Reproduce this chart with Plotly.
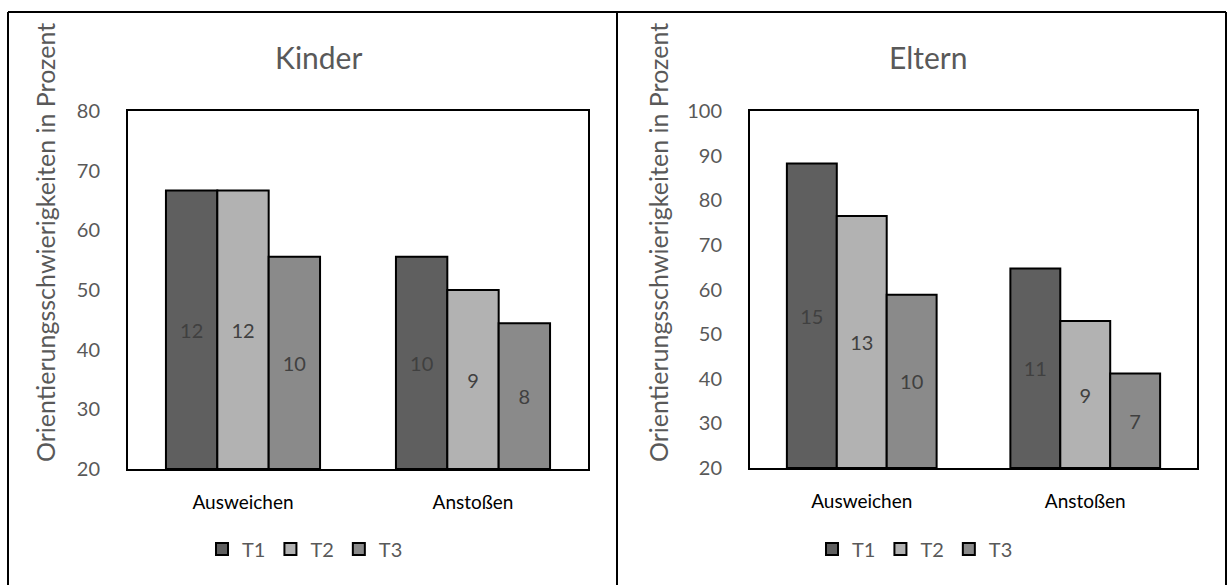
import plotly.graph_objects as go

# Survey data: number of respondents reporting orientation difficulties
categories = ["Ausweichen", "Anstoßen"]
series_names = ["T1", "T2", "T3"]
series_colors = ["#5f5f5f", "#b2b2b2", "#8a8a8a"]

kinder_n = 18
kinder_counts = {
    "T1": [12, 10],
    "T2": [12, 9],
    "T3": [10, 8],
}

eltern_n = 17
eltern_counts = {
    "T1": [15, 11],
    "T2": [13, 9],
    "T3": [10, 7],
}

kinder_ticks = [20, 30, 40, 50, 60, 70, 80]
eltern_ticks = [20, 30, 40, 50, 60, 70, 80, 90, 100]
axis_floor = 20  # bars start at the bottom of the value axis

FONT = "Lato, Open Sans, sans-serif"
W, H = 1228, 585

fig = go.Figure()


def add_panel(counts, n, xaxis, yaxis, legend):
    for name, color in zip(series_names, series_colors):
        vals = counts[name]
        pct = [v / n * 100 for v in vals]
        fig.add_trace(go.Bar(
            x=categories,
            base=axis_floor,
            y=[p - axis_floor for p in pct],
            name=name,
            text=[str(v) for v in vals],
            textposition="inside", insidetextanchor="middle",
            textfont=dict(family=FONT, size=20, color="#404040"),
            marker=dict(color=color, line=dict(color="black", width=2)),
            xaxis=xaxis, yaxis=yaxis, legend=legend,
            customdata=pct,
            hovertemplate="%{x}: %{customdata:.1f} %<extra>" + name + "</extra>",
        ))


add_panel(kinder_counts, kinder_n, "x", "y", "legend")
add_panel(eltern_counts, eltern_n, "x2", "y2", "legend2")


def px_x(v):
    return v / W


def px_y(v):
    return 1 - v / H


axis_common = dict(
    showline=True, linecolor="black", linewidth=2, mirror=True,
    showgrid=False, zeroline=False, ticks="", automargin=False,
)

legend_common = dict(
    orientation="h", xanchor="center", yanchor="middle",
    font=dict(size=20, color="#595959"), itemwidth=30,
    bgcolor="rgba(0,0,0,0)",
)

fig.update_layout(
    width=W, height=H,
    margin=dict(l=0, r=0, t=0, b=0, autoexpand=False),
    paper_bgcolor="white", plot_bgcolor="white",
    barmode="group", bargap=0.33, bargroupgap=0,
    uniformtext=dict(minsize=20, mode="show"),
    font=dict(family=FONT, color="#595959"),
    xaxis=dict(domain=[px_x(128), px_x(588)], anchor="y",
               tickfont=dict(size=19, color="#000000"),
               ticklabelstandoff=15, **axis_common),
    yaxis=dict(domain=[px_y(469), px_y(111)], anchor="x", range=[20, 80],
               tickvals=kinder_ticks, tickfont=dict(size=20, color="#595959"),
               ticklabelstandoff=22, **axis_common),
    xaxis2=dict(domain=[px_x(750), px_x(1197)], anchor="y2",
                tickfont=dict(size=19, color="#000000"),
                ticklabelstandoff=15, **axis_common),
    yaxis2=dict(domain=[px_y(468), px_y(111)], anchor="x2", range=[20, 100],
                tickvals=eltern_ticks, tickfont=dict(size=20, color="#595959"),
                ticklabelstandoff=22, **axis_common),
    legend=dict(x=px_x(305), y=px_y(549), **legend_common),
    legend2=dict(x=px_x(915), y=px_y(549), **legend_common),
    annotations=[
        dict(text="Kinder", x=px_x(318), y=px_y(57), xref="paper", yref="paper",
             xanchor="center", yanchor="middle",
             showarrow=False, font=dict(size=30, color="#595959")),
        dict(text="Eltern", x=px_x(928), y=px_y(57), xref="paper", yref="paper",
             xanchor="center", yanchor="middle",
             showarrow=False, font=dict(size=30, color="#595959")),
        dict(text="Orientierungsschwierigkeiten in Prozent", textangle=-90,
             x=px_x(45), y=px_y(243), xref="paper", yref="paper",
             xanchor="center", yanchor="middle",
             showarrow=False, font=dict(size=25, color="#595959")),
        dict(text="Orientierungsschwierigkeiten in Prozent", textangle=-90,
             x=px_x(658), y=px_y(243), xref="paper", yref="paper",
             xanchor="center", yanchor="middle",
             showarrow=False, font=dict(size=25, color="#595959")),
    ],
    shapes=[
        dict(type="line", xref="paper", yref="paper", x0=px_x(8), x1=px_x(1226),
             y0=px_y(12), y1=px_y(12), line=dict(color="black", width=2)),
        dict(type="line", xref="paper", yref="paper", x0=px_x(8), x1=px_x(8),
             y0=px_y(12), y1=0, line=dict(color="black", width=2)),
        dict(type="line", xref="paper", yref="paper", x0=px_x(617), x1=px_x(617),
             y0=px_y(12), y1=0, line=dict(color="black", width=2)),
        dict(type="line", xref="paper", yref="paper", x0=px_x(1226), x1=px_x(1226),
             y0=px_y(12), y1=0, line=dict(color="black", width=2)),
    ],
)

fig.write_html("out.html")
